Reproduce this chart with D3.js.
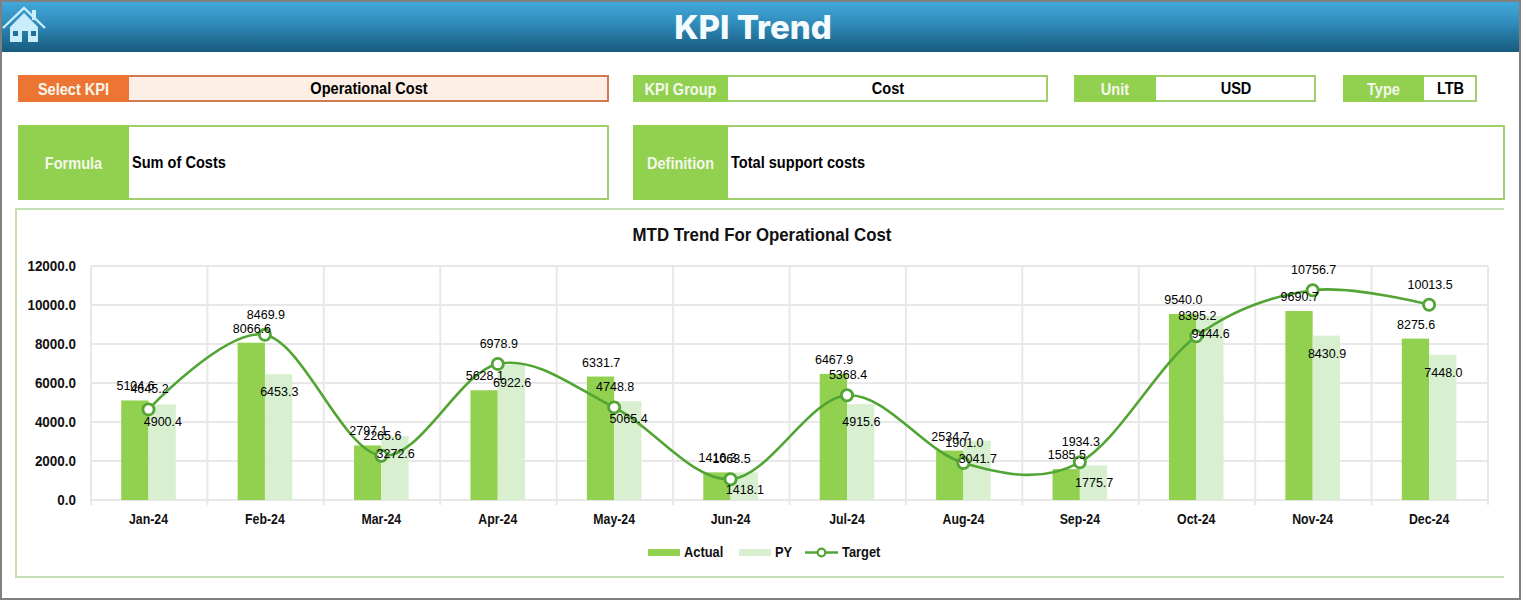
<!DOCTYPE html>
<html>
<head>
<meta charset="utf-8">
<script src="https://cdn.jsdelivr.net/npm/d3@7"></script>
<style>
  html, body { margin: 0; padding: 0; background: #fff; overflow: hidden; }
  svg { display: block; }
  .narrow { font-family: "Liberation Sans", sans-serif; font-weight: 700; }
  .axis text { font-family: "Liberation Sans", sans-serif; font-weight: 700; font-size: 14px; fill: #111; }
  .val { font-family: "Liberation Sans", Arial, sans-serif; font-size: 12.5px; fill: #000; text-anchor: middle; }
</style>
</head>
<body>
<script>
// chart values
const months = ['Jan-24', 'Feb-24', 'Mar-24', 'Apr-24', 'May-24', 'Jun-24', 'Jul-24', 'Aug-24', 'Sep-24', 'Oct-24', 'Nov-24', 'Dec-24'];
const actual = [5104.6, 8066.6, 2797.1, 5628.1, 6331.7, 1416.3, 6467.9, 2534.7, 1585.5, 9540.0, 9690.7, 8275.6];
const py = [4900.4, 6453.3, 3272.6, 6922.6, 5065.4, 1418.1, 4915.6, 3041.7, 1775.7, 9444.6, 8430.9, 7448.0];
const target = [4645.2, 8469.9, 2265.6, 6978.9, 4748.8, 1063.5, 5368.4, 1901.0, 1934.3, 8395.2, 10756.7, 10013.5];
const yTicks = [0, 2000, 4000, 6000, 8000, 10000, 12000];

const green = '#92d050', lightGreen = '#d8f0cf', lineGreen = '#52a534', frameGreen = '#a2cf6e', paleFrame = '#c5e0b4';

const svg = d3.select('body').append('svg').attr('width', 1521).attr('height', 600);

// the reference font is condensed, none is installed, so squeeze the glyphs
const squeeze = (sel, k) => sel.each(function () {
  d3.select(this).attr('textLength', this.getComputedTextLength() * k).attr('lengthAdjust', 'spacingAndGlyphs');
});

// header band
const grad = svg.append('defs').append('linearGradient').attr('id', 'band').attr('x2', 0).attr('y2', 1);
grad.append('stop').attr('offset', 0).attr('stop-color', '#41a9da');
grad.append('stop').attr('offset', 0.45).attr('stop-color', '#2f8ab8');
grad.append('stop').attr('offset', 1).attr('stop-color', '#175a7e');
svg.append('rect').attr('x', 2).attr('y', 2).attr('width', 1517).attr('height', 50).attr('fill', 'url(#band)');
svg.append('text').attr('x', 753).attr('y', 38.5).attr('text-anchor', 'middle')
  .style('font-family', 'Inter, sans-serif').style('font-weight', 800).style('font-size', '33px')
  .attr('fill', '#f4fbfe').text('KPI Trend');

// home icon
const home = svg.append('g');
home.append('path').attr('d', 'M10 27 L24 13 L38 27 V42 H28 V31 H22 V42 H10 Z').attr('fill', '#c9edfb');
home.append('path').attr('d', 'M3 28 L24 8 L45 28').attr('fill', 'none').attr('stroke', '#c9edfb').attr('stroke-width', 2.4);
home.append('rect').attr('x', 32).attr('y', 10).attr('width', 4).attr('height', 10).attr('fill', '#c9edfb');
home.append('rect').attr('x', 13).attr('y', 31).attr('width', 5).attr('height', 5).attr('fill', '#246f98');
home.append('rect').attr('x', 31).attr('y', 31).attr('width', 5).attr('height', 5).attr('fill', '#246f98');

// info boxes
const boxes = [
  { x: 18, y: 75, w: 591, h: 27, lw: 111, label: 'Select KPI', value: 'Operational Cost', head: '#ed7533', line: '#cf7a50', fill: '#fdeee6', center: true },
  { x: 633, y: 75, w: 415, h: 27, lw: 95, label: 'KPI Group', value: 'Cost', center: true },
  { x: 1074, y: 75, w: 242, h: 27, lw: 82, label: 'Unit', value: 'USD', center: true },
  { x: 1343, y: 75, w: 134, h: 27, lw: 81, label: 'Type', value: 'LTB', center: true },
  { x: 18, y: 125, w: 591, h: 75, lw: 111, label: 'Formula', value: 'Sum of Costs' },
  { x: 633, y: 125, w: 872, h: 75, lw: 95, label: 'Definition', value: 'Total support costs' }
];
boxes.forEach(b => {
  const g = svg.append('g');
  g.append('rect').attr('x', b.x + 1).attr('y', b.y + 1).attr('width', b.w - 2).attr('height', b.h - 2)
    .attr('fill', b.fill || '#fff').attr('stroke', b.line || frameGreen).attr('stroke-width', 2);
  g.append('rect').attr('x', b.x).attr('y', b.y).attr('width', b.lw).attr('height', b.h).attr('fill', b.head || green);
  g.append('text').attr('class', 'narrow').attr('x', b.x + b.lw / 2).attr('y', b.y + b.h / 2 + 6)
    .attr('text-anchor', 'middle').attr('fill', '#f4f8ec').style('font-size', '16px').text(b.label).call(squeeze, 0.91);
  const tx = b.center ? b.x + b.lw + (b.w - b.lw) / 2 : b.x + b.lw + 3;
  g.append('text').attr('class', 'narrow').attr('x', tx).attr('y', b.y + b.h / 2 + 5)
    .attr('text-anchor', b.center ? 'middle' : 'start').attr('fill', '#000').style('font-size', '16px').text(b.value).call(squeeze, 0.91);
});

// chart frame, open on the right
svg.append('path').attr('d', 'M1504 209 H16 V577 H1504').attr('fill', 'none').attr('stroke', paleFrame).attr('stroke-width', 2);

svg.append('text').attr('class', 'narrow').attr('x', 762).attr('y', 241).attr('text-anchor', 'middle')
  .attr('fill', '#111').style('font-size', '19px').text('MTD Trend For Operational Cost').call(squeeze, 0.885);

// scales
const x = d3.scaleBand().domain(months).range([91, 1488]);
const inner = d3.scaleBand().domain(['actual', 'py']).range([x.bandwidth() / 2 - 28, x.bandwidth() / 2 + 26.6]);
const y = d3.scaleLinear().domain([0, 12000]).range([500, 266]);

// gridlines
const grid = svg.append('g').attr('stroke', '#e8e8e8').attr('stroke-width', 2);
grid.selectAll('.h').data(yTicks).join('line').attr('class', 'h')
  .attr('x1', x.range()[0]).attr('x2', x.range()[1]).attr('y1', d => y(d)).attr('y2', d => y(d));
const edges = months.map(m => x(m)).concat(x.range()[1]);
grid.selectAll('.v').data(edges).join('line').attr('class', 'v')
  .attr('x1', d => d).attr('x2', d => d).attr('y1', y(12000)).attr('y2', 505);

// axes
const yAxis = svg.append('g').attr('class', 'axis').attr('transform', 'translate(91,0)')
  .call(d3.axisLeft(y).tickValues(yTicks).tickFormat(d3.format('.1f')).tickSize(0).tickPadding(15));
yAxis.select('.domain').remove();
yAxis.selectAll('text').call(squeeze, 0.96);
const xAxis = svg.append('g').attr('class', 'axis').attr('transform', 'translate(0,500)')
  .call(d3.axisBottom(x).tickSize(0).tickPadding(14));
xAxis.select('.domain').remove();
xAxis.selectAll('text').attr('dx', -0.7).call(squeeze, 0.88);

// bars
const rows = months.map((m, i) => ({ m, actual: actual[i], py: py[i], target: target[i] }));
svg.append('g').selectAll('rect').data(rows).join('rect')
  .attr('x', d => x(d.m) + inner('actual')).attr('width', inner.bandwidth())
  .attr('y', d => y(d.actual)).attr('height', d => y(0) - y(d.actual)).attr('fill', green);
svg.append('g').selectAll('rect').data(rows).join('rect')
  .attr('x', d => x(d.m) + inner('py')).attr('width', inner.bandwidth())
  .attr('y', d => y(d.py)).attr('height', d => y(0) - y(d.py)).attr('fill', lightGreen);

// target line
const cx = d => x(d.m) + x.bandwidth() / 2 - 0.7;
const line = d3.line().x(cx).y(d => y(d.target)).curve(d3.curveCardinal.tension(0));
svg.append('path').datum(rows).attr('d', line).attr('fill', 'none').attr('stroke', lineGreen).attr('stroke-width', 2.6);
svg.append('g').selectAll('circle').data(rows).join('circle')
  .attr('cx', cx).attr('cy', d => y(d.target)).attr('r', 5.6)
  .attr('fill', '#fff').attr('stroke', lineGreen).attr('stroke-width', 2.8);

// data labels
const labels = svg.append('g');
labels.selectAll('.a').data(rows).join('text').attr('class', 'val a')
  .attr('x', d => x(d.m) + inner('actual') + inner.bandwidth() / 2 + 0.7).attr('y', d => y(d.actual) - 10)
  .text(d => d.actual.toFixed(1));
labels.selectAll('.p').data(rows).join('text').attr('class', 'val p')
  .attr('x', d => x(d.m) + inner('py') + inner.bandwidth() / 2 + 0.7).attr('y', d => y(d.py) + 22)
  .text(d => d.py.toFixed(1));
labels.selectAll('.t').data(rows).join('text').attr('class', 'val t')
  .attr('x', d => cx(d) + 1).attr('y', d => y(d.target) - 16)
  .text(d => d.target.toFixed(1));

// legend
const legend = svg.append('g').attr('class', 'axis');
legend.append('rect').attr('x', 648).attr('y', 549).attr('width', 32).attr('height', 7).attr('fill', green);
legend.append('rect').attr('x', 739).attr('y', 549).attr('width', 32).attr('height', 7).attr('fill', lightGreen);
legend.append('line').attr('x1', 805).attr('x2', 838).attr('y1', 552.5).attr('y2', 552.5).attr('stroke', lineGreen).attr('stroke-width', 2.6);
legend.append('circle').attr('cx', 821.5).attr('cy', 552.5).attr('r', 3.8).attr('fill', '#fff').attr('stroke', lineGreen).attr('stroke-width', 2.2);
[['Actual', 684], ['PY', 775], ['Target', 842]].forEach(d => {
  legend.append('text').attr('x', d[1]).attr('y', 557).text(d[0]).call(squeeze, 0.92);
});

// outer picture border
svg.append('rect').attr('x', 1).attr('y', 1).attr('width', 1519).attr('height', 598)
  .attr('fill', 'none').attr('stroke', '#808080').attr('stroke-width', 2);
</script>
</body>
</html>
